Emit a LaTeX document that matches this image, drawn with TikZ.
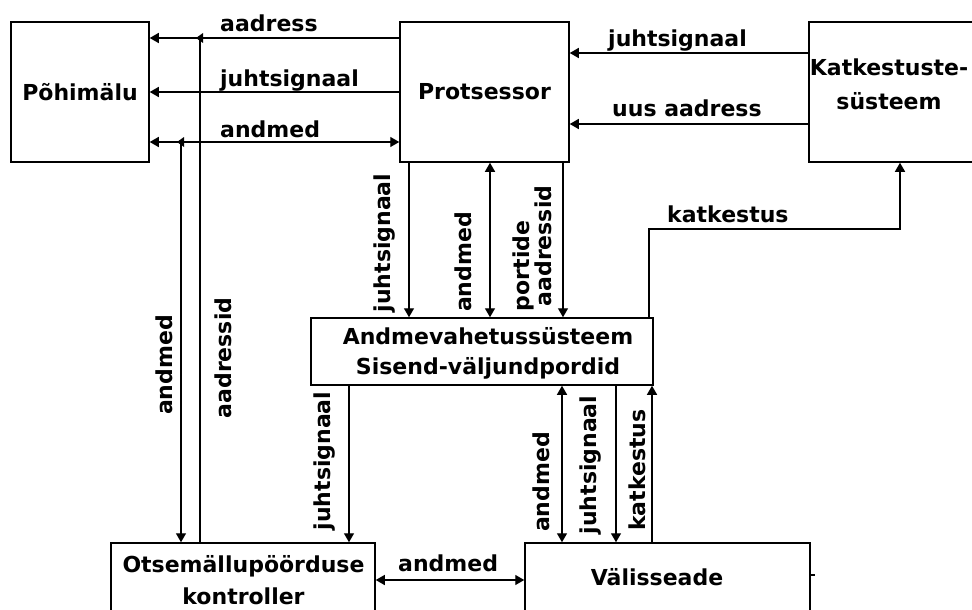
\documentclass[tikz,border=0pt]{standalone}
\usepackage{fontspec}
\setmainfont{DejaVu Sans}
\usetikzlibrary{arrows.meta}
\begin{document}
\begin{tikzpicture}[x=1pt,y=-1pt,
  every node/.style={font=\fontsize{22}{30}\selectfont\bfseries},
  box/.style={draw, line width=1.5pt, inner sep=0pt},
  lbl/.style={inner sep=0pt},
  vlbl/.style={inner sep=0pt, rotate=90},
  wire/.style={line width=1.4pt},
  arr/.style={wire, -{Triangle[length=9pt,width=10pt]}},
  biarr/.style={wire, {Triangle[length=9pt,width=10pt]}-{Triangle[length=9pt,width=10pt]}},
  tapmark/.style={fill=black},
]
\clip (0,0) rectangle (972,610);
\fill[white] (0,0) rectangle (972,610);

% blocks
\node[box, minimum width=138, minimum height=140] (mem) at (80,92) {Põhimälu};
\node[box, minimum width=169, minimum height=140] (cpu) at (484.5,92) {Protsessor};
\node[box, minimum width=220, minimum height=140] (irq) at (919,92) {};
\node[lbl, align=center, font=\fontsize{22}{34}\selectfont\bfseries] (irqtxt) at (889,84) {Katkestuste-\\süsteem};
\node[box, minimum width=342, minimum height=67] (io) at (482,351.5) {};
\node[lbl, align=center] (iotxt) at (488,353) {Andmevahetussüsteem\\Sisend-väljundpordid};
\node[box, minimum width=264, minimum height=100] (dma) at (243,593) {};
\node[lbl, align=center, font=\fontsize{22}{32}\selectfont\bfseries] (dmatxt) at (243.5,580) {Otsemällupöörduse\\kontroller};
\node[box, minimum width=285, minimum height=100] (dev) at (667.5,593) {};
\node[lbl] (devtxt) at (657,577) {Välisseade};

% wire positions
\coordinate (jAddr) at (200,38);
\coordinate (jData) at (181,142);
\coordinate (xc1) at (409,0);
\coordinate (xc2) at (490,0);
\coordinate (xc3) at (563,0);
\coordinate (kUp) at (649,0);
\coordinate (kBend) at (900,229);
\coordinate (yJ) at (0,53);
\coordinate (yU) at (0,124);
\coordinate (xd1) at (349,0);
\coordinate (xe1) at (562,0);
\coordinate (xe2) at (616,0);
\coordinate (xe3) at (652,0);
\coordinate (yD) at (0,580);
\coordinate (yS) at (0,575);

% processor <-> main memory
\draw[arr] (cpu.west |- jAddr) -- (mem.east |- jAddr);
\draw[arr] (cpu.west) -- (mem.east);
\draw[biarr] (cpu.west |- jData) -- (mem.east |- jData);

% DMA controller taps on the memory bus, marked by small left-pointing heads
\draw[wire] (dma.north -| jAddr) -- (jAddr);
\fill[tapmark] ([xshift=-4pt]jAddr) -- ([xshift=3pt,yshift=5pt]jAddr) -- ([xshift=3pt,yshift=-5pt]jAddr) -- cycle;
\draw[arr] (jData) -- (dma.north -| jData);
\fill[tapmark] ([xshift=-4pt]jData) -- ([xshift=3pt,yshift=5pt]jData) -- ([xshift=3pt,yshift=-5pt]jData) -- cycle;

% processor <-> I/O ports
\draw[arr] (cpu.south -| xc1) -- (io.north -| xc1);
\draw[biarr] (cpu.south -| xc2) -- (io.north -| xc2);
\draw[arr] (cpu.south -| xc3) -- (io.north -| xc3);

% interrupt system
\draw[arr] (io.north -| kUp) |- (kBend) -- (irq.south -| kBend);
\draw[arr] (irq.west |- yJ) -- (cpu.east |- yJ);
\draw[arr] (irq.west |- yU) -- (cpu.east |- yU);

% I/O ports -> DMA controller and device
\draw[arr] (io.south -| xd1) -- (dma.north -| xd1);
\draw[biarr] (io.south -| xe1) -- (dev.north -| xe1);
\draw[arr] (io.south -| xe2) -- (dev.north -| xe2);
\draw[arr] (dev.north -| xe3) -- (io.south -| xe3);
\draw[biarr] (dma.east |- yD) -- (dev.west |- yD);
\draw[wire] (dev.east |- yS) -- ++(4,0);

% horizontal labels
\node[lbl, anchor=base west] (l1) at (220,32) {aadress};
\node[lbl, anchor=base west] (l2) at (220,86) {juhtsignaal};
\node[lbl, anchor=base west] (l3) at (220,137) {andmed};
\node[lbl, anchor=base west] (l4) at (608,47) {juhtsignaal};
\node[lbl, anchor=base west] (l5) at (612,117) {uus aadress};
\node[lbl, anchor=base west] (l6) at (667,222) {katkestus};
\node[lbl, anchor=base west] (l7) at (398,571) {andmed};

% vertical labels
\node[vlbl] (v1) at (164,365) {andmed};
\node[vlbl] (v2) at (223,358) {aadressid};
\node[vlbl] (v3) at (385,243) {juhtsignaal};
\node[vlbl] (v4) at (463,262) {andmed};
\node[vlbl] (v5) at (523,266) {portide};
\node[vlbl] (v6) at (543,246) {aadressid};
\node[vlbl] (v7) at (325,461) {juhtsignaal};
\node[vlbl] (v8) at (541,482) {andmed};
\node[vlbl] (v9) at (591,465) {juhtsignaal};
\node[vlbl] (v10) at (637,470) {katkestus};
\end{tikzpicture}
\end{document}
